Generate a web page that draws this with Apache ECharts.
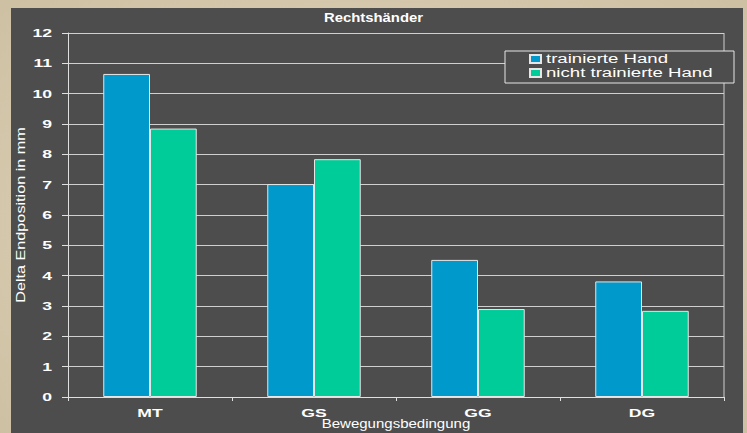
<!DOCTYPE html>
<html><head><meta charset="utf-8">
<script src="https://cdn.jsdelivr.net/npm/echarts@6/dist/echarts.min.js"></script>
<style>html,body{margin:0;padding:0;background:#d9ccb2;overflow:hidden;}#c{width:747px;height:433px;}</style>
</head><body><div id="c"></div>
<script>
const categories = ['MT', 'GS', 'GG', 'DG'];
const trainiert = [10.65, 7.02, 4.52, 3.81];
const nichtTrainiert = [8.85, 7.84, 2.9, 2.84];
const yTicks = [0,1,2,3,4,5,6,7,8,9,10,11,12];
const seriesNames = ['trainierte Hand', 'nicht trainierte Hand'];
const titleText = 'Rechtshänder';
const xName = 'Bewegungsbedingung';
const yName = 'Delta Endposition in mm';

const chart = echarts.init(document.getElementById('c'), null, {renderer:'svg', width:747, height:433});
const font = 'Liberation Sans, Arial, sans-serif';
chart.setOption({
  animation: false,
  backgroundColor: {
    type: 'radial', x: 0.5, y: 0.5, r: 0.8,
    colorStops: [{offset:0, color:'#e2d6bd'},{offset:1, color:'#cbbd9f'}]
  },
  graphic: [
    {type:'rect', shape:{x:11, y:8, width:732, height:430}, style:{fill:'#4d4d4d'}, z:-10},
    {type:'line', shape:{x1:724, y1:33, x2:724, y2:397}, style:{stroke:'#d0d0d0', lineWidth:1}, z:1},
    {type:'rect', shape:{x:505, y:51, width:229, height:32}, style:{fill:'#4d4d4d', stroke:'#e6e6e6', lineWidth:1}, z:3}
  ],
  title: {
    text: titleText, left: 'center', top: 7,
    textStyle: {color:'#fff', fontSize:12, fontWeight:'bold', fontFamily: font}
  },
  legend: {
    data: seriesNames, orient: 'vertical', left: 529, top: 53, z: 5,
    itemWidth: 11, itemHeight: 8, itemGap: 2, padding: 0,
    textStyle: {color:'#fff', fontSize:12, fontFamily: font},
    icon: 'rect'
  },
  grid: {left: 68, top: 33, width: 656, height: 364, containLabel: false, outerBoundsMode: 'none'},
  xAxis: {
    type: 'category', data: categories,
    name: xName, nameLocation: 'middle', nameGap: 21, nameMoveOverlap: false,
    nameTextStyle: {color:'#fff', fontSize:12, fontFamily: font},
    axisLine: {show:true, lineStyle:{color:'#e0e0e0', width:1}},
    axisTick: {show:true, length:4, lineStyle:{color:'#e0e0e0'}},
    axisLabel: {color:'#fff', fontSize:11, fontWeight:'bold', fontFamily: font, margin: 10},
    splitLine: {show:false}
  },
  yAxis: {
    type: 'value', min: 0, max: 12, interval: 1,
    name: yName, nameLocation: 'middle', nameGap: 41, nameMoveOverlap: false,
    nameTextStyle: {color:'#fff', fontSize:12, fontFamily: font},
    axisLine: {show:true, lineStyle:{color:'#e0e0e0'}},
    axisTick: {show:true, length:6, lineStyle:{color:'#e0e0e0'}},
    axisLabel: {color:'#fff', fontSize:11, fontWeight:'bold', fontFamily: font, margin: 16,
      formatter: v => yTicks.includes(v) ? String(v) : ''},
    splitLine: {show:true, lineStyle:{color:'#d0d0d0', width:1}}
  },
  series: [
    {name: seriesNames[0], type:'bar', data: trainiert, barGap: '0%', barCategoryGap: '43%',
     itemStyle:{color:'#0099cc', borderColor:'#e6e6e6', borderWidth:1}},
    {name: seriesNames[1], type:'bar', data: nichtTrainiert,
     itemStyle:{color:'#00cc99', borderColor:'#e6e6e6', borderWidth:1}}
  ]
});

// The reference text is horizontally stretched; widen glyphs to match.
function stretchTexts(){
  document.querySelectorAll('#c svg text').forEach(t => {
    const s = t.textContent.trim();
    let f = 1;
    if (s === titleText) f = 1.24;
    else if (s === xName) f = 1.25;
    else if (s === yName) f = 1.35;
    else if (seriesNames.includes(s)) f = 1.55;
    else if (categories.includes(s)) f = 1.6;
    else if (/^\d+$/.test(s)) f = 1.6;
    if (f === 1) return;
    if (!t.dataset.w) t.dataset.w = t.getComputedTextLength();
    t.setAttribute('textLength', (parseFloat(t.dataset.w) * f).toFixed(1));
    t.setAttribute('lengthAdjust', 'spacingAndGlyphs');
  });
}
stretchTexts();
chart.on('finished', stretchTexts);
</script></body></html>
